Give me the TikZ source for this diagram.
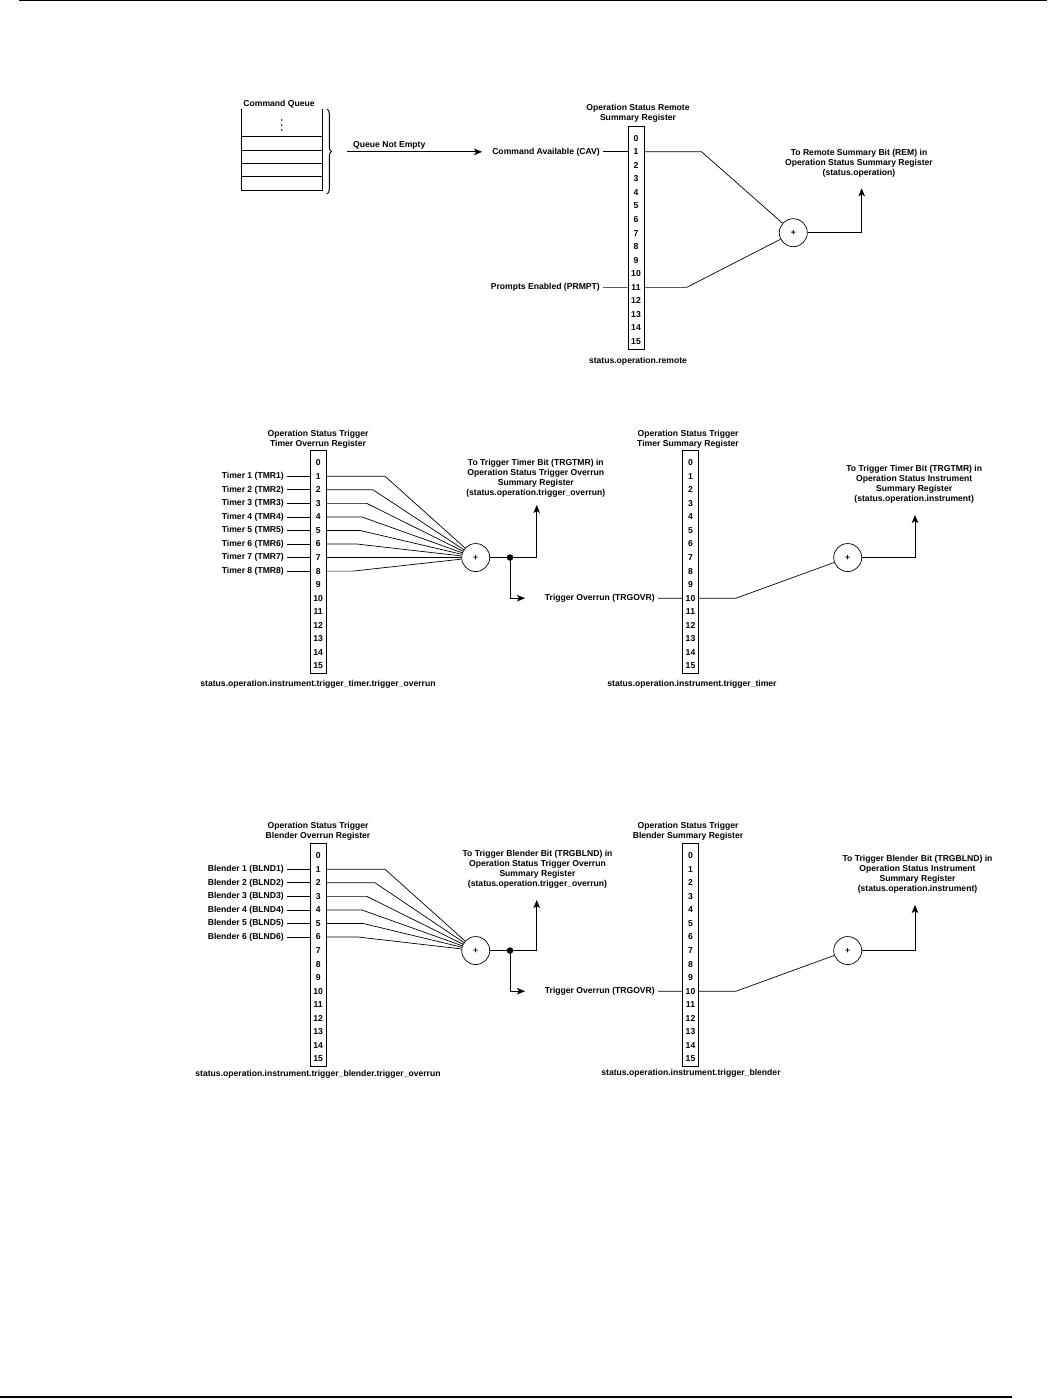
\documentclass[tikz,border=0pt]{standalone}
\usepackage{fontspec}
\setmainfont{Liberation Sans}
\usetikzlibrary{arrows.meta,decorations.pathreplacing,calc}
\begin{document}
\begin{tikzpicture}[x=1pt,y=-1pt,
  every node/.style={font=\fontsize{8.6}{10}\selectfont\bfseries, inner sep=0pt},
  ln/.style={line width=0.7pt},
  arr/.style={line width=0.7pt, -{Stealth[length=8pt,width=6.5pt,inset=2pt]}},
  regbox/.style={draw, line width=0.8pt, minimum width=16pt, minimum height=223pt, inner sep=0pt},
  lbl/.style={anchor=east, inner xsep=3pt},
  sumc/.style={draw, circle, minimum size=28pt, inner sep=0pt, line width=0.7pt},
  dotn/.style={fill, circle, minimum size=6.5pt, inner sep=0pt},
  txt/.style={align=center}
]
\useasboundingbox (0,0) rectangle (1047,1399);
% page rules
\draw[line width=1.2pt] (19,0.6) -- (1047,0.6);
\draw[line width=2pt] (0,1397) -- (1012,1397);

% ================= TOP =================
\node (CQ) at (279,104) {Command Queue};
\draw[ln] (241.7,109) -- (241.7,190.7) -- (322,190.7) -- (322,109);
\foreach \y in {136.7,150,163.3,176.7} \draw[ln] (241.7,\y) -- (322,\y);
\foreach \y in {120,125,130} \fill (281.7,\y) circle (0.9);
\draw[line width=1pt, decorate, decoration={brace, amplitude=4.5pt}] (327,109) -- (327,194);

\node[regbox] (R1) at (636,237.9) {};
\foreach \k in {0,...,15} \node (R1-\k) at (636,{138.3+\k*13.55}) {\k};
\node[txt] (H1) at (638,113.7) {Operation Status Remote\\Summary Register};
\node (F1) at (638,361.7) {status.operation.remote};

\node[lbl] (cav) at (603,151.85) {Command Available (CAV)};
\node[lbl] (prmpt) at (603,287.35) {Prompts Enabled (PRMPT)};
\draw[ln] (cav.east) -- (R1-1 -| R1.west);
\draw[ln] (prmpt.east) -- (R1-11 -| R1.west);

\coordinate (Q0) at (346.7,151.85);
\node[anchor=base west] (QNE) at (353,147.5) {Queue Not Empty};
\draw[arr] (Q0) -- ([xshift=-7pt]cav.west);

\node[sumc] (S1) at (793.3,232.7) {+};
\draw[ln] (R1-1 -| R1.east) -- (701.7,151.85) -- (S1);
\draw[ln] (R1-11 -| R1.east) -- (686.7,287.35) -- (S1);
\coordinate (T1) at (861.7,188.3);
\draw[arr] (S1.east) -- (S1.east -| T1) -- (T1);
\node[txt] (N1) at (859,163.6) {To Remote Summary Bit (REM) in\\Operation Status Summary Register\\(status.operation)};

% ================= MIDDLE =================
\node[regbox] (L2) at (318.2,562.3) {};
\foreach \k in {0,...,15} \node (L2-\k) at (318.2,{462.7+\k*13.55}) {\k};
\node[txt] (H2) at (318,439) {Operation Status Trigger\\Timer Overrun Register};
\node (F2) at (318,684.5) {status.operation.instrument.trigger\_timer.trigger\_overrun};

\node[sumc] (S2) at (475.7,557.55) {+};
\foreach \k/\kx in {1/385,2/373,3/366.7,4/361.7,5/360,6/356.7,7/353,8/353} {
  \node[lbl] (tm\k) at (287,{462.7+\k*13.55}) {Timer \k\ (TMR\k)};
  \draw[ln] (tm\k.east) -- (L2-\k -| L2.west);
  \draw[ln] (L2-\k -| L2.east) -- (\kx,{462.7+\k*13.55}) -- (S2);
}
\node[dotn] (D2) at (510,557.55) {};
\draw[ln] (S2.east) -- (D2);
\coordinate (T2) at (536.7,505);
\draw[arr] (D2.center) -- (D2.center -| T2) -- (T2);
\coordinate (U2) at (525,598.2);
\draw[arr] (D2.center) -- (D2.center |- U2) -- (U2);
\node[txt] (N2) at (535.8,477.8) {To Trigger Timer Bit (TRGTMR) in\\Operation Status Trigger Overrun\\Summary Register\\(status.operation.trigger\_overrun)};

\node[regbox] (R2) at (690.5,562.3) {};
\foreach \k in {0,...,15} \node (R2-\k) at (690.5,{462.7+\k*13.55}) {\k};
\node[txt] (H3) at (688,439) {Operation Status Trigger\\Timer Summary Register};
\node (F3) at (692,684) {status.operation.instrument.trigger\_timer};
\node[lbl] (ov2) at (658,598.2) {Trigger Overrun (TRGOVR)};
\draw[ln] (ov2.east) -- (R2-10 -| R2.west);
\node[sumc] (S3) at (847.7,557.55) {+};
\draw[ln] (R2-10 -| R2.east) -- (736,598.2) -- (S3);
\coordinate (T3) at (915,515);
\draw[arr] (S3.east) -- (S3.east -| T3) -- (T3);
\node[txt] (N3) at (914.2,484.7) {To Trigger Timer Bit (TRGTMR) in\\Operation Status Instrument\\Summary Register\\(status.operation.instrument)};

% ================= BOTTOM =================
\node[regbox] (L4) at (318.2,955.3) {};
\foreach \k in {0,...,15} \node (L4-\k) at (318.2,{855.7+\k*13.55}) {\k};
\node[txt] (H4) at (318,831) {Operation Status Trigger\\Blender Overrun Register};
\node (F4) at (318,1074.5) {status.operation.instrument.trigger\_blender.trigger\_overrun};

\node[sumc] (S4) at (475.7,950.55) {+};
\foreach \k/\kx in {1/385,2/375,3/366.7,4/361.7,5/363,6/358} {
  \node[lbl] (bl\k) at (287,{855.7+\k*13.55}) {Blender \k\ (BLND\k)};
  \draw[ln] (bl\k.east) -- (L4-\k -| L4.west);
  \draw[ln] (L4-\k -| L4.east) -- (\kx,{855.7+\k*13.55}) -- (S4);
}
\node[dotn] (D4) at (510,950.55) {};
\draw[ln] (S4.east) -- (D4);
\coordinate (T4) at (536.7,900);
\draw[arr] (D4.center) -- (D4.center -| T4) -- (T4);
\coordinate (U4) at (525,991.2);
\draw[arr] (D4.center) -- (D4.center |- U4) -- (U4);
\node[txt] (N4) at (537.5,869) {To Trigger Blender Bit (TRGBLND) in\\Operation Status Trigger Overrun\\Summary Register\\(status.operation.trigger\_overrun)};

\node[regbox] (R4) at (690.5,955.3) {};
\foreach \k in {0,...,15} \node (R4-\k) at (690.5,{855.7+\k*13.55}) {\k};
\node[txt] (H5) at (688,831) {Operation Status Trigger\\Blender Summary Register};
\node (F5) at (691,1073.5) {status.operation.instrument.trigger\_blender};
\node[lbl] (ov4) at (658,991.2) {Trigger Overrun (TRGOVR)};
\draw[ln] (ov4.east) -- (R4-10 -| R4.west);
\node[sumc] (S5) at (847.7,950.55) {+};
\draw[ln] (R4-10 -| R4.east) -- (736,991.2) -- (S5);
\coordinate (T5) at (915,905);
\draw[arr] (S5.east) -- (S5.east -| T5) -- (T5);
\node[txt] (N5) at (917.5,874.7) {To Trigger Blender Bit (TRGBLND) in\\Operation Status Instrument\\Summary Register\\(status.operation.instrument)};
\end{tikzpicture}
\end{document}
